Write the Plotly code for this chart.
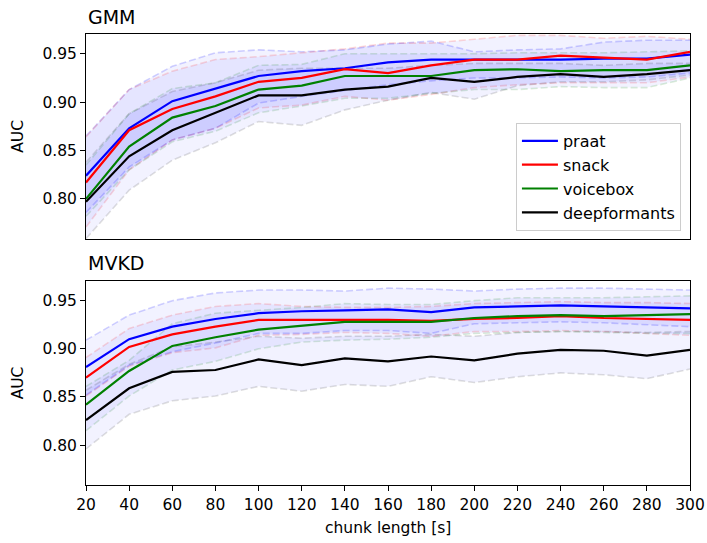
import plotly.graph_objects as go

chunk_lengths = [20, 40, 60, 80, 100, 120, 140, 160, 180, 200, 220, 240, 260, 280, 300]
methods = ["praat", "snack", "voicebox", "deepformants"]

# GMM mean AUC
gmm_praat = [0.824, 0.873, 0.901, 0.914, 0.927, 0.932, 0.935, 0.941, 0.944, 0.944, 0.944, 0.944, 0.945, 0.945, 0.949]
gmm_snack = [0.817, 0.871, 0.893, 0.906, 0.921, 0.925, 0.934, 0.930, 0.938, 0.944, 0.944, 0.948, 0.946, 0.944, 0.952]
gmm_voicebox = [0.800, 0.854, 0.884, 0.896, 0.913, 0.917, 0.927, 0.927, 0.927, 0.933, 0.934, 0.932, 0.933, 0.933, 0.938]
gmm_deepformants = [0.797, 0.844, 0.871, 0.889, 0.907, 0.907, 0.913, 0.916, 0.925, 0.921, 0.926, 0.929, 0.926, 0.929, 0.933]
# GMM upper band
gmm_praat_up = [0.865, 0.913, 0.937, 0.951, 0.954, 0.952, 0.954, 0.960, 0.963, 0.952, 0.954, 0.955, 0.962, 0.964, 0.964]
gmm_snack_up = [0.864, 0.913, 0.932, 0.944, 0.947, 0.951, 0.955, 0.961, 0.961, 0.965, 0.969, 0.969, 0.966, 0.968, 0.965]
gmm_voicebox_up = [0.835, 0.888, 0.914, 0.920, 0.938, 0.939, 0.950, 0.950, 0.950, 0.950, 0.951, 0.951, 0.951, 0.952, 0.953]
gmm_deepformants_up = [0.838, 0.888, 0.911, 0.920, 0.933, 0.935, 0.935, 0.935, 0.938, 0.940, 0.940, 0.940, 0.938, 0.940, 0.940]
# GMM lower band
gmm_praat_lo = [0.786, 0.833, 0.861, 0.873, 0.899, 0.906, 0.912, 0.918, 0.922, 0.925, 0.925, 0.926, 0.925, 0.926, 0.930]
gmm_snack_lo = [0.771, 0.830, 0.861, 0.873, 0.894, 0.897, 0.906, 0.902, 0.908, 0.915, 0.918, 0.920, 0.920, 0.920, 0.926]
gmm_voicebox_lo = [0.782, 0.830, 0.859, 0.870, 0.889, 0.896, 0.904, 0.904, 0.909, 0.913, 0.913, 0.916, 0.915, 0.915, 0.925]
gmm_deepformants_lo = [0.759, 0.809, 0.840, 0.858, 0.880, 0.876, 0.892, 0.902, 0.910, 0.903, 0.917, 0.921, 0.921, 0.923, 0.928]

# MVKD mean AUC
mvkd_praat = [0.881, 0.910, 0.923, 0.931, 0.937, 0.939, 0.940, 0.941, 0.938, 0.943, 0.944, 0.945, 0.944, 0.943, 0.942]
mvkd_snack = [0.870, 0.902, 0.915, 0.923, 0.930, 0.930, 0.930, 0.930, 0.929, 0.931, 0.932, 0.934, 0.932, 0.931, 0.930]
mvkd_voicebox = [0.842, 0.877, 0.903, 0.912, 0.920, 0.924, 0.928, 0.928, 0.928, 0.932, 0.934, 0.935, 0.934, 0.935, 0.936]
mvkd_deepformants = [0.826, 0.859, 0.876, 0.878, 0.889, 0.883, 0.890, 0.887, 0.892, 0.888, 0.895, 0.899, 0.898, 0.893, 0.899]
# MVKD upper band
mvkd_praat_up = [0.909, 0.935, 0.950, 0.958, 0.961, 0.961, 0.960, 0.963, 0.962, 0.960, 0.962, 0.963, 0.963, 0.962, 0.961]
mvkd_snack_up = [0.891, 0.921, 0.935, 0.944, 0.947, 0.944, 0.943, 0.943, 0.944, 0.947, 0.948, 0.949, 0.948, 0.948, 0.947]
mvkd_voicebox_up = [0.861, 0.888, 0.926, 0.937, 0.940, 0.943, 0.947, 0.946, 0.946, 0.950, 0.953, 0.953, 0.953, 0.954, 0.955]
mvkd_deepformants_up = [0.857, 0.884, 0.902, 0.907, 0.913, 0.911, 0.913, 0.913, 0.915, 0.913, 0.917, 0.918, 0.918, 0.917, 0.918]
# MVKD lower band
mvkd_praat_lo = [0.852, 0.883, 0.897, 0.906, 0.916, 0.916, 0.919, 0.919, 0.916, 0.926, 0.927, 0.928, 0.927, 0.925, 0.923]
mvkd_snack_lo = [0.851, 0.882, 0.896, 0.901, 0.914, 0.915, 0.917, 0.916, 0.913, 0.918, 0.918, 0.919, 0.918, 0.916, 0.914]
mvkd_voicebox_lo = [0.815, 0.851, 0.878, 0.887, 0.900, 0.907, 0.909, 0.910, 0.912, 0.916, 0.917, 0.918, 0.917, 0.916, 0.916]
mvkd_deepformants_lo = [0.796, 0.832, 0.846, 0.851, 0.861, 0.856, 0.863, 0.861, 0.871, 0.865, 0.871, 0.875, 0.873, 0.869, 0.879]

y_ticks = [0.80, 0.85, 0.90, 0.95]

panels = [
    ("GMM", "x", "y",
     [gmm_praat, gmm_snack, gmm_voicebox, gmm_deepformants],
     [gmm_praat_up, gmm_snack_up, gmm_voicebox_up, gmm_deepformants_up],
     [gmm_praat_lo, gmm_snack_lo, gmm_voicebox_lo, gmm_deepformants_lo]),
    ("MVKD", "x2", "y2",
     [mvkd_praat, mvkd_snack, mvkd_voicebox, mvkd_deepformants],
     [mvkd_praat_up, mvkd_snack_up, mvkd_voicebox_up, mvkd_deepformants_up],
     [mvkd_praat_lo, mvkd_snack_lo, mvkd_voicebox_lo, mvkd_deepformants_lo]),
]

line_colors = ["#0000ff", "#ff0000", "#008000", "#000000"]
band_colors = ["rgba(0,0,255,0.18)", "rgba(255,0,0,0.15)", "rgba(0,128,0,0.15)", "rgba(0,0,0,0.13)"]
fill_color = "rgba(0,0,255,0.05)"

fig = go.Figure()
for pi, (name, xa, ya, means, ups, los) in enumerate(panels):
    for i in range(4):
        fig.add_trace(go.Scatter(x=chunk_lengths, y=ups[i], xaxis=xa, yaxis=ya, mode="lines",
                                 line=dict(color=band_colors[i], width=1.6, dash="7px,3px"),
                                 showlegend=False, hoverinfo="skip"))
        fig.add_trace(go.Scatter(x=chunk_lengths, y=los[i], xaxis=xa, yaxis=ya, mode="lines",
                                 line=dict(color=band_colors[i], width=1.6, dash="7px,3px"),
                                 fill="tonexty", fillcolor=fill_color,
                                 showlegend=False, hoverinfo="skip"))
    for i in range(4):
        fig.add_trace(go.Scatter(x=chunk_lengths, y=means[i], xaxis=xa, yaxis=ya, mode="lines",
                                 name=methods[i], line=dict(color=line_colors[i], width=2.2),
                                 showlegend=(pi == 0)))

font = "DejaVu Sans"
axis_common = dict(showline=True, linecolor="black", linewidth=1, mirror=True,
                   showgrid=False, zeroline=False, ticklen=5, automargin=False,
                   tickwidth=1, tickcolor="black", tickfont=dict(size=15.5, color="black"))
yr = [0.7586, 0.9704]
fig.update_layout(
    width=707, height=543,
    margin=dict(l=86, r=17, t=34, b=58),
    paper_bgcolor="white", plot_bgcolor="white",
    font=dict(family=font, color="black", size=15.5),
    xaxis=dict(domain=[0, 1], range=[20, 300], anchor="y", tickvals=chunk_lengths,
               showticklabels=False, ticks="", **axis_common),
    yaxis=dict(domain=[0.5455, 1], range=yr, anchor="x", tickvals=y_ticks,
               tickformat=".2f", ticks="outside", **axis_common),
    xaxis2=dict(domain=[0, 1], range=[20, 300], anchor="y2", tickvals=chunk_lengths,
                ticks="outside", **axis_common),
    yaxis2=dict(domain=[0, 0.4523], range=yr, anchor="x2", tickvals=y_ticks,
                tickformat=".2f", ticks="outside", **axis_common),
    legend=dict(x=0.985, y=0.5632, xanchor="right", yanchor="bottom", traceorder="normal",
                bgcolor="rgba(255,255,255,0.8)", bordercolor="#cccccc", borderwidth=1,
                font=dict(size=16), itemwidth=36, tracegroupgap=0),
    showlegend=True,
)

annotations = [
    dict(text="GMM", x=0, y=1.0377, xanchor="left", yanchor="middle", font=dict(size=19)),
    dict(text="MVKD", x=0, y=0.4922, xanchor="left", yanchor="middle", font=dict(size=19)),
    dict(text="AUC", x=-0.112, y=0.7728, xanchor="center", yanchor="middle", textangle=-90, font=dict(size=15.5)),
    dict(text="AUC", x=-0.112, y=0.2262, xanchor="center", yanchor="middle", textangle=-90, font=dict(size=15.5)),
    dict(text="chunk length [s]", x=0.5, y=-0.0953, xanchor="center", yanchor="middle", font=dict(size=15.5)),
]
for a in annotations:
    fig.add_annotation(xref="paper", yref="paper", showarrow=False, **a)

fig.write_html("out.html", config={"displayModeBar": False},
               post_script="document.body.style.margin='0';document.body.style.overflow='hidden';")
